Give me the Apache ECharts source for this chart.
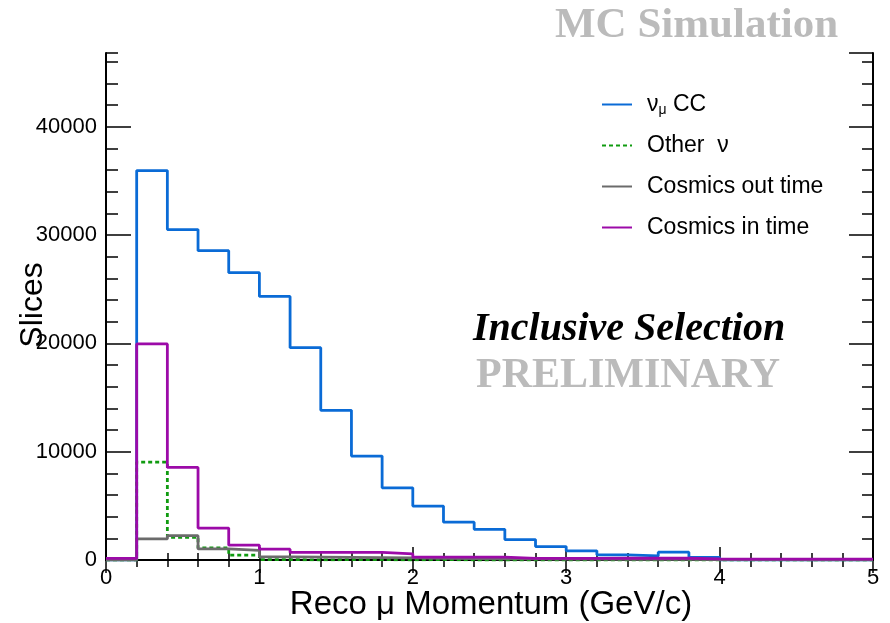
<!DOCTYPE html>
<html><head><meta charset="utf-8">
<script src="https://cdn.jsdelivr.net/npm/echarts@6/dist/echarts.min.js"></script>
<style>html,body{margin:0;padding:0;background:#fff}#c{width:890px;height:623px}</style>
</head><body><div id="c"></div>
<script>
// Bin lower edges (GeV/c), bin width 0.2
const binEdges = [0,0.2,0.4,0.6,0.8,1.0,1.2,1.4,1.6,1.8,2.0,2.2,2.4,2.6,2.8,3.0,3.2,3.4,3.6,3.8,4.0,4.2,4.4,4.6,4.8,5.0];
const numuCC      = [0,35950,30500,28550,26520,24330,19600,13820,9590,6660,4980,3490,2830,1890,1240,850,480,380,720,240,0,0,0,0,0];
const otherNu     = [0,9030,2100,1110,450,40,0,40,40,0,40,0,0,0,0,0,0,0,0,0,0,0,0,0,0];
const cosmicsOut  = [0,1950,2250,1020,890,290,270,250,220,190,150,130,110,100,90,80,70,60,50,40,30,30,20,20,20];
const cosmicsIn   = [150,19950,8550,2950,1370,1000,700,700,700,570,260,260,260,150,150,150,160,160,160,110,90,90,90,90,90];
const xTicks = [0,1,2,3,4,5];
const yMajor = [0,10000,20000,30000,40000];

function hist(vals){
  const d = vals.map((v,i)=>[binEdges[i], v]);
  d.push([binEdges[binEdges.length-1], vals[vals.length-1]]);
  return d;
}
const chart = echarts.init(document.getElementById('c'), null, {renderer:'canvas'});
const font = 'Liberation Sans';
const yMax = 46800;
const frame = {show:true, lineStyle:{color:'#000', width:2}};
function xAx(pos, labels){
  return {type:'value', min:0, max:5, interval:1, position:pos,
    axisLine: frame,
    axisTick:{show:true, inside:true, length:13, lineStyle:{color:'#000', width:1.5}},
    minorTick:{show:true, splitNumber:5, length:7, lineStyle:{color:'#000', width:1.5}},
    splitLine:{show:false}, minorSplitLine:{show:false},
    axisLabel:{show:labels, fontFamily:font, fontSize:22, color:'#000', margin:7,
      formatter:v=> xTicks.includes(v) ? String(v) : ''}
  };
}
function yAx(pos, interval, len, labels, line){
  return {type:'value', min:0, max:yMax, interval:interval, position:pos,
    axisLine: line ? frame : {show:false},
    axisTick:{show:true, inside:true, length:len, lineStyle:{color:'#000', width:1.5}},
    splitLine:{show:false},
    axisLabel:{show:labels, fontFamily:font, fontSize:22, color:'#000', margin:9, showMaxLabel:false,
      formatter:v=> yMajor.includes(v) ? String(v) : ''}
  };
}
const lineBase = (name, data, color, type, z)=>({
  name:name, type:'line', step:'end', data:hist(data), symbol:'none', showSymbol:false,
  lineStyle:{color:color, width:2.8, type:type}, itemStyle:{color:color}, z:z, clip:true,
  xAxisIndex:0, yAxisIndex:0, animation:false
});
chart.setOption({
  animation:false,
  backgroundColor:'#fff',
  grid:{left:106, right:17, top:53, bottom:63, containLabel:false},
  xAxis:[xAx('bottom', true), xAx('top', false)],
  yAxis:[yAx('left',10000,25,true,true), yAx('left',2000,12,false,false),
         yAx('right',10000,24,false,true), yAx('right',2000,11,false,false)],
  legend:{
    orient:'vertical', left:596, top:86, itemWidth:30, itemHeight:14, itemGap:14,
    data:['numu','other','cout','cin'],
    itemStyle:{color:'rgba(0,0,0,0)', borderColor:'rgba(0,0,0,0)', borderWidth:0, opacity:0},
    textStyle:{fontFamily:font, fontSize:23, color:'#000', padding:[0,0,0,10], lineHeight:27,
      rich:{
        n:{fontFamily:font, fontSize:23, color:'#000', lineHeight:27},
        s:{fontFamily:font, fontSize:14, color:'#000', padding:[12,0,0,0], lineHeight:27}
      }},
    formatter:function(n){
      if(n==='numu') return '{n|ν}{s|μ}{n| CC}';
      if(n==='other') return '{n|Other  ν}';
      if(n==='cout') return '{n|Cosmics out time}';
      return '{n|Cosmics in time}';
    }
  },
  series:[
    lineBase('numu', numuCC, '#0a6bd6', 'solid', 2),
    lineBase('other', otherNu, '#109b10', [4,3], 3),
    lineBase('cout', cosmicsOut, '#6b6b6b', 'solid', 4),
    lineBase('cin', cosmicsIn, '#9c0aa8', 'solid', 5)
  ],
  graphic:[
    {type:'text', left:555, top:4, style:{text:'MC Simulation', font:'bold 43px "Liberation Serif"', fill:'#bbbbbb'}},
    {type:'text', left:473, top:310, style:{text:'Inclusive Selection', font:'italic bold 40px "Liberation Serif"', fill:'#000'}},
    {type:'text', left:476, top:355, style:{text:'PRELIMINARY', font:'bold 42px "Liberation Serif"', fill:'#bbbbbb'}},
    {type:'text', x:33, y:305, rotation:Math.PI/2, style:{text:'Slices', font:'32px "Liberation Sans"', fill:'#000', align:'center', verticalAlign:'middle'}},
    {type:'text', x:491, y:605, style:{text:'Reco μ Momentum (GeV/c)', font:'33px "Liberation Sans"', fill:'#000', align:'center', verticalAlign:'middle'}}
  ]
});
</script></body></html>
